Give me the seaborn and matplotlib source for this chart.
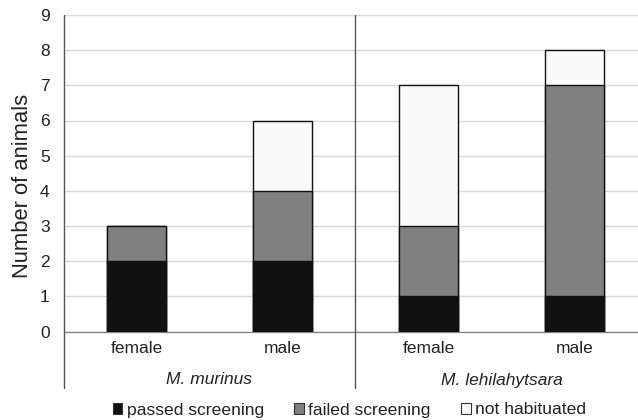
import matplotlib
matplotlib.use("Agg")
import matplotlib.pyplot as plt
import seaborn as sns
import pandas as pd
import numpy as np
from matplotlib.patches import Patch

species = ["M. murinus", "M. murinus", "M. lehilahytsara", "M. lehilahytsara"]
sexes = ["female", "male", "female", "male"]
passed = [2, 2, 1, 1]
failed = [1, 2, 2, 6]
not_habituated = [0, 2, 4, 1]

series_names = ["passed screening", "failed screening", "not habituated"]
colors = ["#111111", "#808080", "#fafafa"]

sns.set_theme(style="white")
plt.rcParams["font.family"] = ["Liberation Sans", "DejaVu Sans"]

keys = [f"{sp} {sx}" for sp, sx in zip(species, sexes)]
df = pd.DataFrame({
    "key": keys,
    "passed": passed,
    "failed": failed,
    "nothab": not_habituated,
})
df["c1"] = df["passed"]
df["c2"] = df["passed"] + df["failed"]
df["c3"] = df["c2"] + df["nothab"]

W, H = 638, 420
fig = plt.figure(figsize=(W / 100, H / 100), dpi=100)
left, right, top, bottom = 63.5, 638, 15, 331.5
ax = fig.add_axes([left / W, 1 - bottom / H, (right - left) / W, (bottom - top) / H])

bw = 0.404
for col, c in zip(["c3", "c2", "c1"], colors[::-1]):
    sns.barplot(data=df, x="key", y=col, order=keys, color=c, width=bw,
                edgecolor="#111111", linewidth=1.0, saturation=1, ax=ax, zorder=3)

ax.set_xlim(-0.5, 3.435)
ax.set_ylim(0, 9)
ax.set_yticks(range(0, 10))
ax.yaxis.grid(True, color="#d9d9d9", linewidth=1.0, zorder=0)
ax.set_axisbelow(True)
ax.set_xticks(range(4))
ax.set_xticklabels(sexes, fontsize=12.5, color="#222222")
ax.tick_params(axis="x", length=0, pad=7)
ax.tick_params(axis="y", length=0, pad=10, labelsize=12.5, labelcolor="#222222")
ax.set_xlabel("")
ax.set_ylabel("Number of animals", fontsize=15.8, color="#222222")
ax.yaxis.set_label_coords(-(left - 33) / (right - left), (bottom - 186) / (bottom - top))

for s in ["top", "right"]:
    ax.spines[s].set_visible(False)
ax.spines["bottom"].set_color("#888888")
ax.spines["bottom"].set_linewidth(1.0)
ax.spines["left"].set_visible(False)

ext = (388 - bottom) / (bottom - top)
ax.axvline(-0.5, ymin=-ext, ymax=1, color="#555555", linewidth=1.0, clip_on=False, zorder=4)
ax.axvline(1.5, ymin=-ext, ymax=1, color="#555555", linewidth=1.0, clip_on=False, zorder=4)

grp_y = -(380 - bottom) / (bottom - top)
trans = ax.get_xaxis_transform()
groups = []
for i, sp in enumerate(species):
    if sp not in groups:
        groups.append(sp)
for sp in groups:
    idx = [i for i, s in enumerate(species) if s == sp]
    ax.text(np.mean(idx), grp_y, sp, transform=trans, ha="center", va="center",
            fontsize=12.5, style="italic", color="#222222")

handles = [Patch(facecolor=c, edgecolor="#333333", linewidth=0.8) for c in colors]
fig.legend(handles, series_names, loc="center", bbox_to_anchor=(349.5 / W, 1 - 410 / H),
           ncol=3, frameon=False, fontsize=12.6, handlelength=0.55, handleheight=0.55,
           handletextpad=0.25, columnspacing=1.75, borderaxespad=0, borderpad=0,
           labelcolor="#222222")

fig.savefig("out.png", dpi=100)
